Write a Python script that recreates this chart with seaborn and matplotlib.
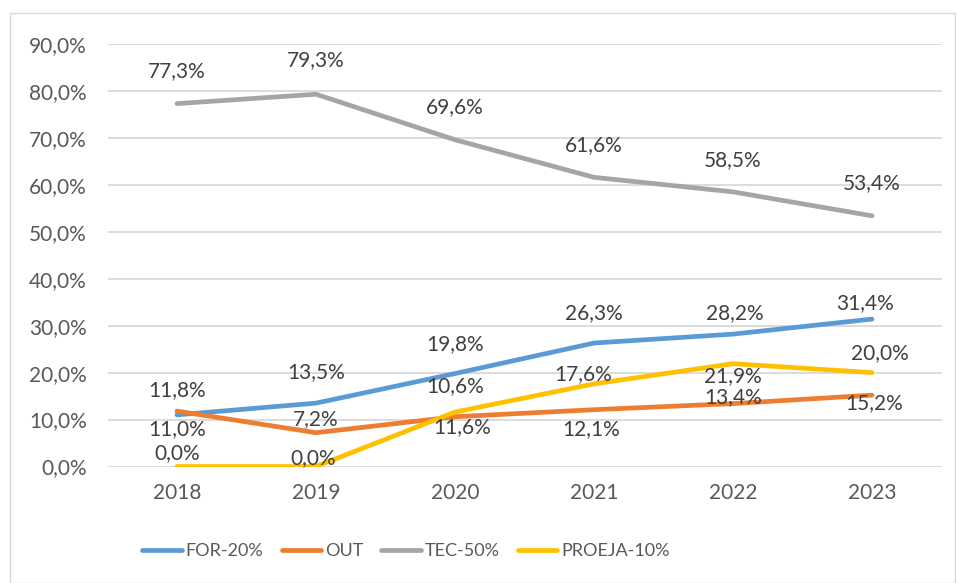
import matplotlib
matplotlib.use("Agg")
import matplotlib.pyplot as plt
import matplotlib.patches as mpatches
import seaborn as sns
import pandas as pd

years = ["2018", "2019", "2020", "2021", "2022", "2023"]
series_names = ["FOR-20%", "OUT", "TEC-50%", "PROEJA-10%"]
for_20 = [11.0, 13.5, 19.8, 26.3, 28.2, 31.4]
out = [11.8, 7.2, 10.6, 12.1, 13.4, 15.2]
tec_50 = [77.3, 79.3, 69.6, 61.6, 58.5, 53.4]
proeja_10 = [0.0, 0.0, 11.6, 17.6, 21.9, 20.0]
y_ticks = [0, 10, 20, 30, 40, 50, 60, 70, 80, 90]

colors = ["#5B9BD5", "#ED7D31", "#A5A5A5", "#FFC000"]

# deslocamento dos rótulos em pixels (dx, dy), dy positivo = para cima
label_offsets = {
    "FOR-20%": [(0, -14), (0, 31), (0, 29), (0, 30), (2, 21), (-7, 16)],
    "OUT": [(0, 21), (0, 14), (0, 31), (-3, -19), (0, 7), (2, -8)],
    "TEC-50%": [(0, 33), (0, 34), (0, 33), (0, 32), (0, 32), (0, 33)],
    "PROEJA-10%": [(0, 13), (-3, 8), (7, -15), (-11, 10), (0, -12), (8, 20)],
}

values = {"FOR-20%": for_20, "OUT": out, "TEC-50%": tec_50, "PROEJA-10%": proeja_10}
rows = []
for name in series_names:
    for i, v in enumerate(values[name]):
        rows.append({"x": i, "year": years[i], "serie": name, "valor": v})
df = pd.DataFrame(rows)

sns.set_theme(style="white")
plt.rcParams['font.family'] = ['Lato', 'DejaVu Sans']
FS = 15

fig = plt.figure(figsize=(9.57, 5.83), dpi=100)
ax = fig.add_axes([107.5 / 957, (583 - 466.5) / 583, 834 / 957, 422.5 / 583])

sns.lineplot(data=df, x="x", y="valor", hue="serie", hue_order=series_names,
             palette=colors, linewidth=3.4, ax=ax, solid_capstyle="round", legend=False)

for name, color in zip(series_names, colors):
    for i, v in enumerate(values[name]):
        dx, dy = label_offsets[name][i]
        ax.annotate(f"{v:.1f}%".replace(".", ","), (i, v), xytext=(dx, dy),
                    textcoords="offset pixels", ha="center", va="center",
                    fontsize=FS, color="#404040")

ax.set_xlim(-0.5, 5.5)
ax.set_ylim(0, 90)
ax.set_yticks(y_ticks)
ax.set_yticklabels([f"{t:.1f}%".replace(".", ",") for t in y_ticks])
ax.set_xticks(range(len(years)))
ax.set_xticklabels(years)
ax.tick_params(axis="both", length=0, labelsize=FS, labelcolor="#595959")
ax.tick_params(axis="y", pad=15)
ax.tick_params(axis="x", pad=12)
ax.grid(axis="y", color="#D9D9D9", linewidth=1.3)
ax.set_axisbelow(True)
for s in ax.spines.values():
    s.set_visible(False)
ax.set_xlabel("")
ax.set_ylabel("")

handles = [plt.Line2D([], [], color=c, linewidth=3.4, solid_capstyle="round") for c in colors]
fig.legend(handles, series_names, loc="center", bbox_to_anchor=(406 / 957, 1 - 551 / 583),
           ncol=4, frameon=False, fontsize=13, labelcolor="#595959",
           handlelength=2.2, handletextpad=0.2, columnspacing=1.0)

fig.patches.append(mpatches.Rectangle((10 / 957, 0), 945 / 957, 1 - 13 / 583,
                                      transform=fig.transFigure, fill=False,
                                      edgecolor="#D9D9D9", linewidth=1))

plt.savefig("out.png", dpi=100)
plt.close()
